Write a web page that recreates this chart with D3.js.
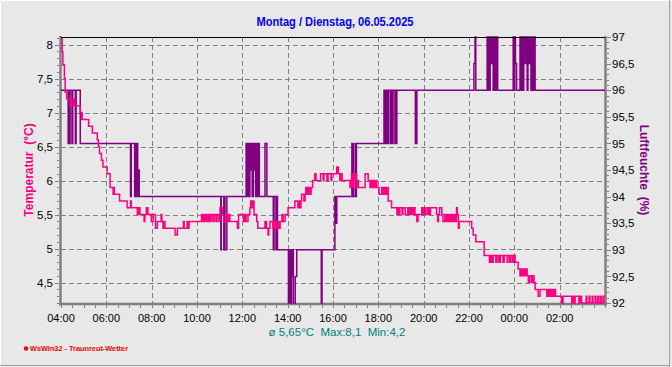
<!DOCTYPE html>
<html><head><meta charset="utf-8">
<script src="https://cdn.jsdelivr.net/npm/d3@7"></script>
<style>
body{margin:0;background:#e8e8e8;overflow:hidden}
svg{display:block}
text{font-family:"Liberation Sans",Arial,sans-serif}
</style>
</head><body>
<svg id="chart" width="672" height="367"></svg>
<script>
// ---------- data ----------
const chartTitle = "Montag / Dienstag, 06.05.2025";
const tempAxisTitle = "Temperatur  (°C)";
const humAxisTitle = "Luftfeuchte  (%)";
const statsText = "ø 5,65°C  Max:8,1  Min:4,2";
const footerText = "WsWin32 - Traunreut-Wetter";
const startTime = "2025-05-05T04:00";
const timeTickLabels = ["04:00","06:00","08:00","10:00","12:00","14:00","16:00","18:00","20:00","22:00","00:00","02:00"];
const tempTicks = [4.5,5,5.5,6,6.5,7,7.5,8];
const humTicks = [92,92.5,93,93.5,94,94.5,95,95.5,96,96.5,97];
// [minutes after 04:00, °C]
const temperature = [[0,8.1],[3,7.9],[5,7.7],[9,7.5],[11,7.3],[15,7.2],[24,7.1],[32,7.2],[34,7.1],[35,7.2],[37,7.1],[51,7.0],[54,6.9],[55,7.0],[56,6.9],[73,6.8],[83,6.7],[96,6.6],[99,6.5],[102,6.4],[107,6.3],[111,6.2],[122,6.1],[130,5.9],[138,5.8],[140,5.9],[141,5.8],[155,5.7],[175,5.6],[184,5.7],[186,5.6],[202,5.5],[204,5.6],[206,5.5],[207,5.6],[209,5.5],[220,5.4],[222,5.5],[226,5.6],[230,5.5],[239,5.4],[244,5.5],[250,5.3],[255,5.4],[265,5.5],[267,5.4],[270,5.3],[273,5.4],[275,5.3],[302,5.2],[308,5.3],[324,5.4],[326,5.3],[334,5.4],[336,5.3],[339,5.4],[372,5.5],[375,5.4],[377,5.5],[380,5.4],[384,5.5],[386,5.4],[390,5.5],[394,5.4],[397,5.5],[402,5.4],[405,5.5],[410,5.4],[413,5.5],[418,5.4],[421,5.6],[428,5.5],[431,5.4],[437,5.5],[442,5.4],[445,5.5],[447,5.4],[467,5.3],[470,5.5],[483,5.4],[487,5.5],[490,5.4],[495,5.5],[500,5.6],[502,5.7],[506,5.6],[508,5.7],[511,5.5],[518,5.4],[521,5.3],[540,5.4],[544,5.3],[548,5.2],[550,5.3],[553,5.4],[561,5.3],[565,5.4],[569,5.3],[573,5.4],[577,5.3],[580,5.4],[585,5.5],[588,5.4],[593,5.5],[601,5.6],[619,5.7],[627,5.6],[630,5.7],[633,5.6],[635,5.7],[637,5.8],[643,5.7],[646,5.8],[648,5.9],[651,5.8],[655,5.9],[659,5.8],[662,5.9],[666,6.0],[672,6.1],[675,6.0],[687,6.1],[694,6.0],[696,6.1],[704,6.0],[707,6.1],[715,6.0],[717,6.1],[730,6.2],[734,6.1],[738,6.0],[741,6.1],[744,6.0],[765,5.9],[769,6.1],[772,5.9],[774,6.1],[777,6.0],[780,6.1],[782,5.9],[785,6.0],[787,5.9],[805,6.1],[813,6.0],[818,5.9],[821,6.0],[823,5.9],[827,6.0],[831,5.9],[834,6.0],[836,5.9],[842,5.8],[849,5.9],[852,5.8],[855,5.9],[859,5.8],[863,5.9],[866,5.7],[875,5.6],[889,5.5],[891,5.6],[893,5.5],[897,5.6],[903,5.5],[905,5.6],[911,5.5],[918,5.6],[922,5.5],[926,5.6],[930,5.5],[934,5.6],[937,5.5],[942,5.4],[945,5.5],[955,5.6],[958,5.5],[962,5.6],[966,5.5],[971,5.6],[975,5.5],[978,5.6],[994,5.5],[997,5.4],[999,5.5],[1002,5.6],[1008,5.5],[1011,5.4],[1016,5.5],[1020,5.4],[1024,5.5],[1028,5.4],[1032,5.5],[1036,5.4],[1040,5.5],[1044,5.4],[1047,5.6],[1049,5.5],[1052,5.3],[1054,5.4],[1087,5.3],[1091,5.2],[1098,5.1],[1120,4.9],[1134,4.8],[1137,4.9],[1141,4.8],[1144,4.9],[1151,4.8],[1154,4.9],[1159,4.8],[1163,4.9],[1170,4.8],[1173,4.9],[1181,4.8],[1183,4.9],[1188,4.8],[1191,4.9],[1196,4.8],[1199,4.9],[1202,4.8],[1210,4.7],[1215,4.6],[1218,4.7],[1220,4.6],[1224,4.7],[1228,4.6],[1231,4.7],[1234,4.6],[1237,4.5],[1241,4.6],[1246,4.5],[1249,4.6],[1252,4.5],[1255,4.4],[1263,4.3],[1268,4.4],[1286,4.3],[1290,4.4],[1293,4.3],[1297,4.4],[1301,4.3],[1305,4.4],[1309,4.3],[1325,4.2],[1329,4.3],[1352,4.2],[1355,4.3],[1358,4.2],[1361,4.3],[1371,4.2],[1375,4.3],[1378,4.2],[1390,4.3],[1392,4.2],[1398,4.3],[1400,4.2],[1406,4.3],[1408,4.2],[1414,4.3],[1416,4.2],[1421,4.3],[1424,4.2],[1429,4.3],[1432,4.2],[1437,4.3]];
// [minutes after 04:00, %]
const humidity = [[0,96],[19,95],[20,96],[22,95],[24,96],[29,95],[31,96],[38,95],[40,96],[51,95],[184,94],[186,95],[195,94],[197,95],[199,94],[201,95],[203,94],[205,94.5],[207,94],[423,93],[424,94],[431,93],[433,94],[434,93],[439,94],[490,95],[492,94],[495,95],[497,94],[500,95],[502,94.5],[505,95],[506,94],[509,95],[511,94.5],[514,95],[515,94],[518,95],[521,94],[523,95],[525,94],[540,95],[545,94],[562,93],[564,94],[569,93],[570,94],[573,93],[602,92],[606,93],[608,92],[610,92.5],[612,93],[615,92],[620,92.5],[624,93],[689,92],[691,93],[725,94],[728,93.5],[730,94],[770,95],[771,94],[773,95],[774,94],[779,95],[780,94],[782,95],[855,96],[858,95],[861,96],[863,95],[867,96],[872,95],[874,96],[876,95],[879,96],[884,95],[886,96],[888,95],[889,96],[938,95],[942,96],[1093,96.5],[1096,97],[1098,96],[1128,97],[1130,96],[1132,97],[1134,96],[1136,97],[1138,96.5],[1141,97],[1144,96],[1147,97],[1149,96],[1153,97],[1156,96],[1197,97],[1199,96],[1201,97],[1203,96.5],[1206,96],[1215,97],[1218,96],[1219,97],[1223,96],[1225,97],[1228,96.5],[1232,97],[1234,96],[1236,97],[1239,96.5],[1241,97],[1244,96],[1247,97],[1249,96],[1251,97],[1255,96]];

// ---------- layout ----------
const W = 672, H = 367;
const L = 61, R = 605, T = 37, B = 303;
const svg = d3.select("#chart");
const t0 = new Date(startTime);
const t1 = d3.timeHour.offset(t0, 24);
const toPts = arr => {
  const p = arr.map(d => ({t: d3.timeMinute.offset(t0, d[0]), v: d[1]}));
  p.push({t: t1, v: arr[arr.length-1][1]});
  return p;
};
const x = d3.scaleTime().domain([t0, t1]).range([L, R]);
const yT = d3.scaleLinear().domain([4.2, 8.112]).range([B, T]);
const yH = d3.scaleLinear().domain([92, 97]).range([B, T]);
const comma = v => String(v).replace(".", ",");

// background & border
svg.append("rect").attr("width", W).attr("height", H).attr("fill", "#e8e8e8");
svg.append("line").attr("x1",0).attr("x2",W).attr("y1",0.5).attr("y2",0.5).attr("stroke","#ffffff");
svg.append("line").attr("x1",0.5).attr("x2",0.5).attr("y1",0).attr("y2",H).attr("stroke","#ffffff");
svg.append("line").attr("x1",669.5).attr("x2",669.5).attr("y1",0).attr("y2",H).attr("stroke","#a0a0a0").attr("stroke-width",1);
svg.append("line").attr("x1",0).attr("x2",670).attr("y1",365.5).attr("y2",365.5).attr("stroke","#a0a0a0").attr("stroke-width",1);

// grid
const hourTicks = d3.timeHour.every(2).range(t0, t1);
const grid = svg.append("g").attr("stroke", "#808080").attr("stroke-width", 1).attr("stroke-dasharray", "5,3").attr("shape-rendering","crispEdges");
grid.selectAll("line.v").data(hourTicks.slice(1)).join("line").attr("class","v")
  .attr("x1", d => Math.round(x(d)) + 0.5).attr("x2", d => Math.round(x(d)) + 0.5)
  .attr("y1", T).attr("y2", B);
grid.selectAll("line.h").data(tempTicks).join("line").attr("class","h")
  .attr("x1", L).attr("x2", R)
  .attr("y1", d => Math.round(yT(d)) + 0.5).attr("y2", d => Math.round(yT(d)) + 0.5);

// axes lines (gray)
const axisCol = "#808080";
svg.append("line").attr("x1",60.5).attr("x2",60.5).attr("y1",T-1).attr("y2",B+2.5).attr("stroke",axisCol).attr("stroke-width",2.5);
svg.append("line").attr("x1",605.5).attr("x2",605.5).attr("y1",T-1).attr("y2",B+2.5).attr("stroke",axisCol).attr("stroke-width",2.5);
svg.append("line").attr("x1",59).attr("x2",607).attr("y1",304).attr("y2",304).attr("stroke",axisCol).attr("stroke-width",2.5);

// ticks
const minorT = d3.range(42, 82).map(d => d / 10);
const minorH = d3.range(920, 971).map(d => d / 10);
const g = svg.append("g").attr("shape-rendering","crispEdges");
g.selectAll("line.tm").data(minorT).join("line").attr("class","tm")
  .attr("x1",57).attr("x2",59).attr("y1",d=>Math.round(yT(d))+0.5).attr("y2",d=>Math.round(yT(d))+0.5).attr("stroke",axisCol);
g.selectAll("line.tM").data(tempTicks).join("line").attr("class","tM")
  .attr("x1",55).attr("x2",59).attr("y1",d=>Math.round(yT(d))+0.5).attr("y2",d=>Math.round(yT(d))+0.5).attr("stroke",axisCol);
g.selectAll("line.hm").data(minorH).join("line").attr("class","hm")
  .attr("x1",607).attr("x2",609).attr("y1",d=>Math.round(yH(d))+0.5).attr("y2",d=>Math.round(yH(d))+0.5).attr("stroke",axisCol);
g.selectAll("line.hM").data(humTicks).join("line").attr("class","hM")
  .attr("x1",607).attr("x2",611).attr("y1",d=>Math.round(yH(d))+0.5).attr("y2",d=>Math.round(yH(d))+0.5).attr("stroke",axisCol);
const halfHours = d3.timeMinute.every(30).range(t0, d3.timeMinute.offset(t1, 1));
g.selectAll("line.xm").data(halfHours).join("line").attr("class","xm")
  .attr("x1",d=>Math.round(x(d))+0.5).attr("x2",d=>Math.round(x(d))+0.5).attr("y1",305).attr("y2",308).attr("stroke",axisCol);

// tick labels
svg.append("g").selectAll("text").data(tempTicks).join("text")
  .attr("x",53).attr("y",d=>yT(d)).attr("dy","0.36em").attr("text-anchor","end")
  .attr("font-size",11.5).attr("fill","#000").text(comma);
svg.append("g").selectAll("text").data(humTicks).join("text")
  .attr("x",612).attr("y",d=>yH(d)).attr("dy","0.36em").attr("text-anchor","start")
  .attr("font-size",11.5).attr("fill","#000").text(comma);
svg.append("g").selectAll("text").data(hourTicks).join("text")
  .attr("x",d=>x(d)).attr("y",322).attr("text-anchor","middle")
  .attr("font-size",11).attr("fill","#000").text((d,i)=>timeTickLabels[i]);

// data lines
const lineGen = ys => d3.line().x(d => x(d.t)).y(d => ys(d.v)).curve(d3.curveStepAfter);
svg.append("path").datum(toPts(humidity)).attr("d", lineGen(yH))
  .attr("fill","none").attr("stroke","#800080").attr("stroke-width",1.5);
svg.append("path").datum(toPts(temperature)).attr("d", lineGen(yT))
  .attr("fill","none").attr("stroke","#ff0080").attr("stroke-width",1.5);

// top frame
svg.append("line").attr("x1",L).attr("x2",R).attr("y1",T+0.5).attr("y2",T+0.5).attr("stroke","#000").attr("stroke-width",1);

// titles
svg.append("text").attr("x",335).attr("y",26).attr("text-anchor","middle")
  .attr("font-size",12).attr("font-weight","bold").attr("fill","#0000ff")
  .attr("textLength",157).attr("lengthAdjust","spacingAndGlyphs").text(chartTitle);
svg.append("text").attr("transform","translate(29,170) rotate(-90)").attr("text-anchor","middle").attr("dy","0.35em")
  .attr("font-size",12).attr("font-weight","bold").attr("fill","#ff0080").attr("xml:space","preserve").text(tempAxisTitle);
svg.append("text").attr("transform","translate(644,170) rotate(90)").attr("text-anchor","middle").attr("dy","0.35em")
  .attr("font-size",12).attr("font-weight","bold").attr("fill","#800080").attr("xml:space","preserve").text(humAxisTitle);
svg.append("text").attr("x",337).attr("y",336).attr("text-anchor","middle")
  .attr("font-size",11.5).attr("fill","#008080").attr("xml:space","preserve").text(statsText);

// footer
svg.append("circle").attr("cx",26).attr("cy",348.5).attr("r",2.3).attr("fill","#ff0000");
svg.append("text").attr("x",30).attr("y",351).attr("font-size",7.5).attr("font-weight","bold")
  .attr("fill","#ff0000").attr("textLength",98).attr("lengthAdjust","spacingAndGlyphs")
  .attr("xml:space","preserve").text(footerText);
</script>
</body></html>
